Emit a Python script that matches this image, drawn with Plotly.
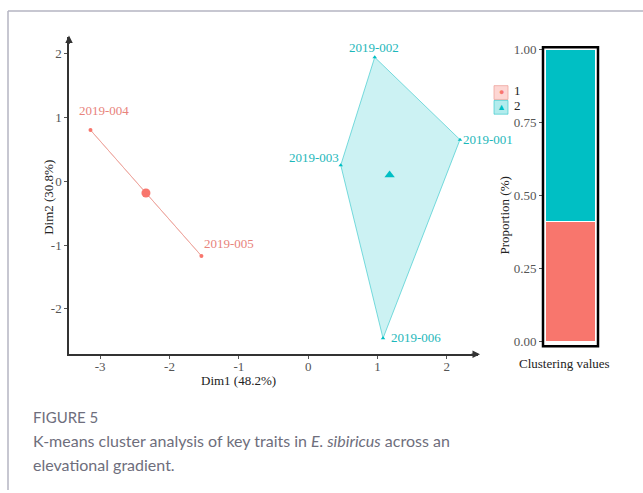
import numpy as np
import plotly.graph_objects as go

# Sample scores on the first two principal dimensions and their k-means cluster
samples = ["2019-001", "2019-002", "2019-003", "2019-004", "2019-005", "2019-006"]
dim1 = [2.19, 0.96, 0.47, -3.14, -1.54, 1.08]
dim2 = [0.65, 1.94, 0.25, 0.80, -1.17, -2.46]
cluster = [2, 2, 2, 1, 1, 2]

# Proportion of each cluster in the stacked bar
cluster_ids = [1, 2]
proportions = [0.41, 0.59]

colors = {1: "#F8766D", 2: "#00BFC4"}
label_colors = {1: "#E8837B", 2: "#1DB7BA"}
fills = {1: "rgba(248,118,109,0.2)", 2: "rgba(0,191,196,0.2)"}
hull_lines = {1: "rgba(236,160,152,0.75)", 2: "rgba(40,196,200,0.6)"}
center_symbols = {1: "circle", 2: "triangle-up"}

# label offsets (px) from each point
label_dx = {"2019-001": 28, "2019-002": -1, "2019-003": -27, "2019-004": 14, "2019-005": 28, "2019-006": 33}
label_dy = {"2019-001": 0, "2019-002": 10, "2019-003": 8, "2019-004": 20, "2019-005": 12, "2019-006": 1}

SERIF = "Liberation Serif, Times New Roman, serif"
W, H = 643, 493

fig = go.Figure()

x_arr = np.array(dim1)
y_arr = np.array(dim2)
c_arr = np.array(cluster)

for k in cluster_ids:
    m = c_arr == k
    xs, ys = x_arr[m], y_arr[m]
    cx, cy = xs.mean(), ys.mean()
    # order members by angle round the centre to trace the hull
    order = np.argsort(np.arctan2(ys - cy, xs - cx))
    hx = list(xs[order]) + [xs[order][0]]
    hy = list(ys[order]) + [ys[order][0]]
    fig.add_trace(go.Scatter(
        x=hx, y=hy, mode="lines", fill="toself", fillcolor=fills[k],
        line=dict(color=hull_lines[k], width=1), showlegend=False, hoverinfo="skip"))
    fig.add_trace(go.Scatter(
        x=xs, y=ys, mode="markers", marker=dict(color=colors[k], size=4, symbol=center_symbols[k]),
        showlegend=False))
    fig.add_trace(go.Scatter(
        x=[cx], y=[cy], mode="markers",
        marker=dict(color=colors[k], size=9, symbol=center_symbols[k]),
        showlegend=False))

for s, xv, yv, k in zip(samples, dim1, dim2, cluster):
    fig.add_annotation(x=xv, y=yv, xref="x", yref="y", text=s, showarrow=False,
                       xanchor="center", yanchor="middle",
                       xshift=label_dx[s], yshift=label_dy[s],
                       font=dict(family=SERIF, size=13, color=label_colors[k]))

# stacked proportion bar
for k, p in zip(cluster_ids, proportions):
    fig.add_trace(go.Bar(
        x=["Clustering values"], y=[p], xaxis="x2", yaxis="y2", width=0.9,
        marker=dict(color=colors[k], line=dict(color="white", width=1)),
        showlegend=False, name=str(k)))

x0p, x1p = 69 / W, 478 / W
y0p, y1p = 1 - 355 / H, 1 - 33 / H
bx0, bx1 = 543 / W, 598 / W
by0, by1 = 1 - 347 / H, 1 - 43 / H

tickfont = dict(family=SERIF, size=13, color="#555555")
titlefont = dict(family=SERIF, size=13, color="#222222")

fig.update_layout(
    width=W, height=H, margin=dict(l=0, r=0, t=0, b=0),
    paper_bgcolor="white", plot_bgcolor="white", barmode="stack",
    xaxis=dict(domain=[x0p, x1p], range=[-3.45, 2.45], tickvals=[-3, -2, -1, 0, 1, 2],
               ticktext=["-3", "-2", "-1", "0", "1", "2"],
               showgrid=False, zeroline=False, showline=True, linecolor="#333333", linewidth=1.5,
               ticks="outside", ticklen=3, tickcolor="#555555", tickfont=tickfont,
               ticklabelstandoff=-4),
    yaxis=dict(domain=[y0p, y1p], range=[-2.71, 2.25], tickvals=[-2, -1, 0, 1, 2],
               ticktext=["-2", "-1", "0", "1", "2"],
               showgrid=False, zeroline=False, showline=True, linecolor="#333333", linewidth=1.5,
               ticks="outside", ticklen=3, tickcolor="#555555", tickfont=tickfont),
    xaxis2=dict(domain=[bx0, bx1], anchor="y2", range=[-0.5, 0.5], showticklabels=False,
                showgrid=False, zeroline=False, showline=False, ticks=""),
    yaxis2=dict(domain=[by0, by1], anchor="x2", range=[-0.017, 1.007],
                tickvals=[0, 0.25, 0.5, 0.75, 1.0], ticktext=["0.00", "0.25", "0.50", "0.75", "1.00"],
                showgrid=False, zeroline=False, showline=False,
                ticks="outside", ticklen=3, tickcolor="#555555", tickfont=tickfont),
)

# box round the bar panel
fig.add_shape(type="rect", xref="x2 domain", yref="y2 domain", x0=0, x1=1, y0=0, y1=1,
              line=dict(color="black", width=2.5))

# arrowheads on the main axes
fig.add_annotation(xref="paper", yref="paper", x=x1p + 2 / W, y=y0p, ax=-10, ay=0,
                   showarrow=True, arrowhead=2, arrowsize=1, arrowwidth=1.5, arrowcolor="#333333", text="")
fig.add_annotation(xref="paper", yref="paper", x=x0p, y=y1p + 2 / H, ax=0, ay=10,
                   showarrow=True, arrowhead=2, arrowsize=1, arrowwidth=1.5, arrowcolor="#333333", text="")


def paper_text(px, py, text, font, angle=0, xanchor="center"):
    fig.add_annotation(xref="paper", yref="paper", x=px / W, y=1 - py / H, text=text,
                       textangle=angle, showarrow=False, xanchor=xanchor, yanchor="middle",
                       align="left", font=font)


# axis titles
paper_text(238, 382, "Dim1 (48.2%)", titlefont)
paper_text(49, 196, "Dim2 (30.8%)", titlefont, angle=-90)
paper_text(505, 214, "Proportion (%)", titlefont, angle=-90)
paper_text(564, 364, "Clustering values", titlefont)

# cluster key
for i, k in enumerate(cluster_ids):
    top = 82 + i * 15
    fig.add_shape(type="rect", xref="paper", yref="paper",
                  x0=494 / W, x1=508 / W, y0=1 - (top + 14) / H, y1=1 - top / H,
                  line=dict(color=hull_lines[k], width=1), fillcolor=fills[k].replace("0.2", "0.3"))
    paper_text(501, top + 6, "●" if k == 1 else "▲", dict(size=9, color=colors[k]))
    paper_text(512, top + 5, str(k), dict(family=SERIF, size=13, color="#222222"), xanchor="left")

# page frame
fig.add_shape(type="line", xref="paper", yref="paper", x0=8 / W, x1=1, y0=1 - 6 / H, y1=1 - 6 / H,
              line=dict(color="#B4B4C2", width=1.5))
fig.add_shape(type="line", xref="paper", yref="paper", x0=8 / W, x1=8 / W, y0=0, y1=1 - 6 / H,
              line=dict(color="#B4B4C2", width=1.5))

# caption
CAP = "Lato, Open Sans, sans-serif"
paper_text(31, 419, "FIGURE 5", dict(family=CAP, size=15, color="#6E6E7C"), xanchor="left")
paper_text(31, 443, "K-means cluster analysis of key traits in <i>E. sibiricus</i> across an",
           dict(family=CAP, size=16, color="#6E6E7C"), xanchor="left")
paper_text(31, 467, "elevational gradient.", dict(family=CAP, size=16, color="#6E6E7C"), xanchor="left")

fig.write_html("out.html")
